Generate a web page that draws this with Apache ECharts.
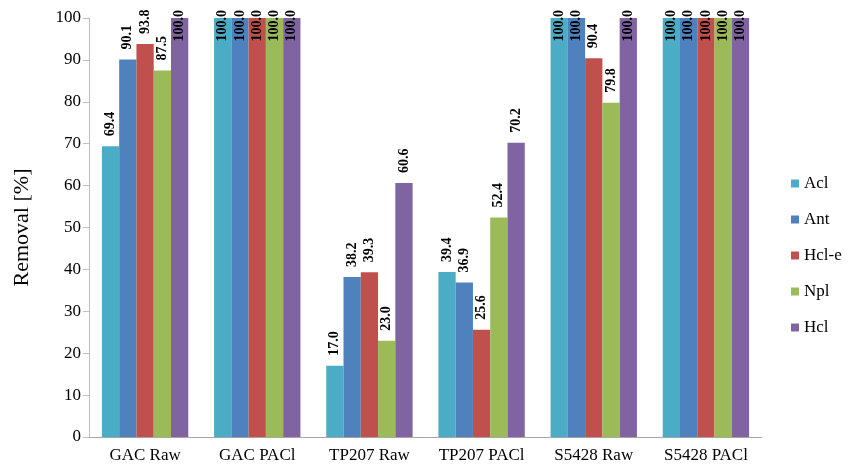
<!DOCTYPE html>
<html><head><meta charset="utf-8">
<script src="https://cdn.jsdelivr.net/npm/echarts@6/dist/echarts.min.js"></script>
<style>html,body{margin:0;padding:0;background:#fff}#c{width:850px;height:476px}</style>
</head><body><div id="c"></div>
<script>
const categories = ['GAC Raw','GAC PACl','TP207 Raw','TP207 PACl','S5428 Raw','S5428 PACl'];
const seriesNames = ['Acl','Ant','Hcl-e','Npl','Hcl'];
const acl  = [69.4, 100, 17.0, 39.4, 100, 100];
const ant  = [90.1, 100, 38.2, 36.9, 100, 100];
const hcle = [93.8, 100, 39.3, 25.6, 90.4, 100];
const npl  = [87.5, 100, 23.0, 52.4, 79.8, 100];
const hcl  = [100, 100, 60.6, 70.2, 100, 100];
const yTicks = [0,10,20,30,40,50,60,70,80,90,100];

const colors = ['#4BACC6','#4F81BD','#C0504D','#9BBB59','#8064A2'];
const allData = [acl, ant, hcle, npl, hcl];
const serif = '"Liberation Serif", "DejaVu Serif", serif';

function mkData(arr){
  return arr.map(v => {
    if (v >= 100) {
      return {value: v, label: {position: ['50%', -8], align: 'right', verticalAlign: 'middle'}};
    }
    return v;
  });
}

const chart = echarts.init(document.getElementById('c'), null, {renderer:'canvas'});
chart.setOption({
  animation: false,
  color: colors,
  grid: {left: 89, right: 88, top: 18, bottom: 39, containLabel: false, outerBoundsMode: 'none'},
  legend: {
    orient: 'vertical', left: 786, top: 170, itemWidth: 8, itemHeight: 8, itemGap: 19,
    icon: 'rect',
    textStyle: {fontFamily: serif, fontSize: 17, color: '#000'},
    data: seriesNames
  },
  xAxis: {
    type: 'category', data: categories,
    axisLine: {lineStyle: {color: '#A6A6A6'}},
    axisTick: {show: false},
    axisLabel: {fontFamily: serif, fontSize: 17, color: '#000', margin: 10}
  },
  yAxis: {
    type: 'value', min: 0, max: 100, interval: 10,
    name: 'Removal [%]', nameLocation: 'middle', nameGap: 56,
    nameTextStyle: {fontFamily: serif, fontSize: 22, color: '#000'},
    axisLine: {show: true, lineStyle: {color: '#BFBFBF'}},
    axisTick: {show: true, length: 6, lineStyle: {color: '#BFBFBF'}},
    splitLine: {show: false},
    axisLabel: {fontFamily: serif, fontSize: 17, color: '#000', margin: 8,
      formatter: v => yTicks.includes(v) ? String(v) : ''}
  },
  series: seriesNames.map((n, i) => ({
    name: n, type: 'bar', data: mkData(allData[i]),
    barGap: '0%', barCategoryGap: '23%',
    itemStyle: {color: colors[i]},
    label: {
      show: true, position: 'top', rotate: 90, align: 'left', verticalAlign: 'middle',
      distance: 10,
      fontFamily: serif, fontWeight: 'bold', fontSize: 14, color: '#000',
      formatter: p => p.value.toFixed(1)
    }
  }))
});
</script></body></html>
